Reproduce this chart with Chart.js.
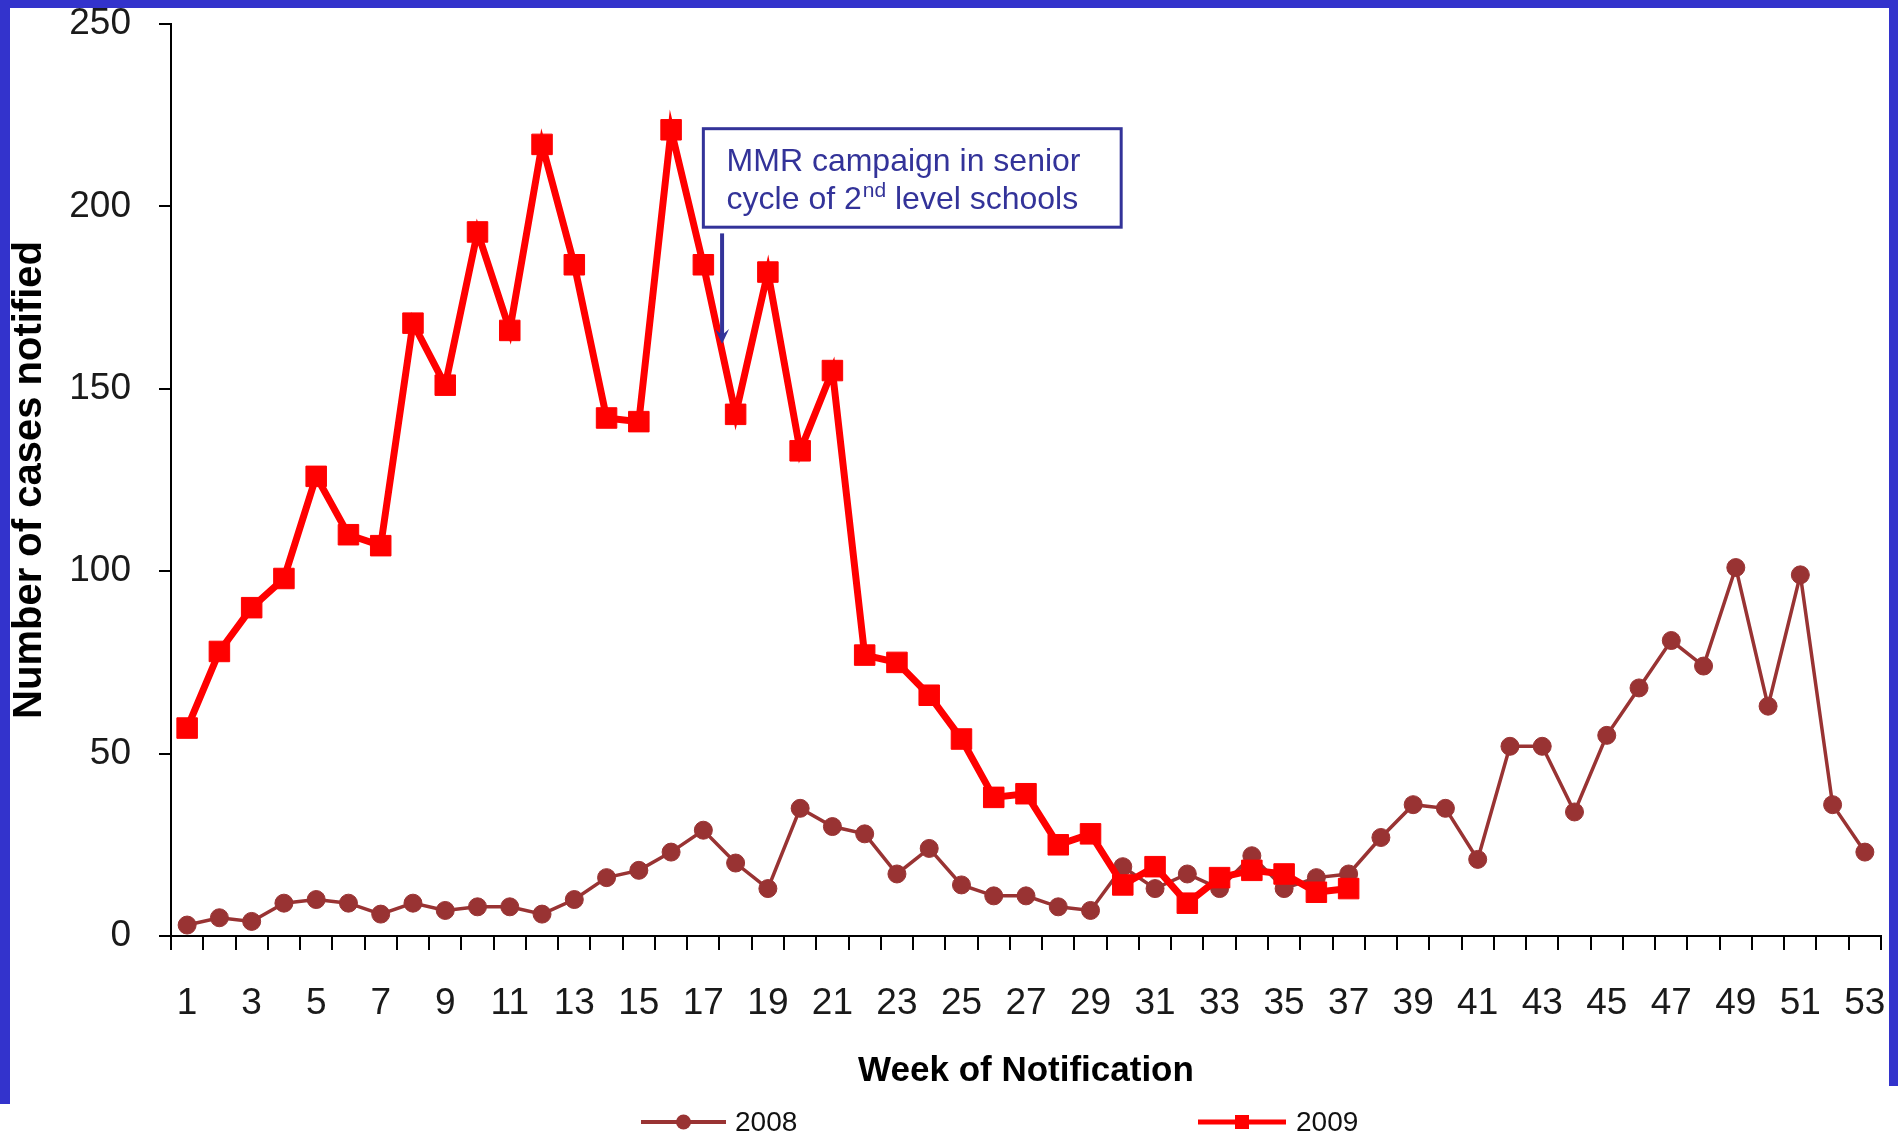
<!DOCTYPE html>
<html>
<head>
<meta charset="utf-8">
<script src="https://cdn.jsdelivr.net/npm/chart.js@4.4.1/dist/chart.umd.min.js"></script>
<style>
  html, body { margin: 0; padding: 0; background: #ffffff; width: 1898px; height: 1137px; overflow: hidden; }
  .frame { position: absolute; background: #3333CC; }
  #fTop { left: 0; top: 0; width: 1898px; height: 8px; }
  #fLeft { left: 0; top: 0; width: 10px; height: 1104px; }
  #fRight { left: 1889px; top: 0; width: 9px; height: 1086px; }
  #wrap { position: absolute; left: 0; top: 0; width: 1898px; height: 1137px; }
</style>
</head>
<body>
<div class="frame" id="fTop"></div>
<div class="frame" id="fLeft"></div>
<div class="frame" id="fRight"></div>
<div id="wrap"><canvas id="chart" width="1898" height="1137"></canvas></div>
<script>
// ---------------- data ----------------
const weeks = ["1","2","3","4","5","6","7","8","9","10","11","12","13","14","15","16","17","18","19","20",
  "21","22","23","24","25","26","27","28","29","30","31","32","33","34","35","36","37","38","39","40",
  "41","42","43","44","45","46","47","48","49","50","51","52","53"];
const cases2008 = [3,5,4,9,10,9,6,9,7,8,8,6,10,16,18,23,29,20,13,35,30,28,17,24,14,11,11,8,7,19,
  13,17,13,22,13,16,17,27,36,35,21,52,52,34,55,68,81,74,101,63,99,36,23];
const cases2009 = [57,78,90,98,126,110,107,168,151,193,166,217,184,142,141,221,184,143,182,133,
  155,77,75,66,54,38,39,25,28,14,19,9,16,18,17,12,13,
  null,null,null,null,null,null,null,null,null,null,null,null,null,null,null,null];
const yTickValues = [0, 50, 100, 150, 200, 250];
const seriesNames = ["2008", "2009"];
const yTitle = "Number of cases notified";
const xTitle = "Week of Notification";
const noteLine1 = "MMR campaign in senior";
const noteLine2 = ["cycle of 2", "nd", " level schools"];

// ---------------- styles ----------------
const SANS = '"Liberation Sans", Arial, sans-serif';
const BROWN = '#993333';
const RED = '#FF0000';
const NAVY = '#333399';

// annotation anchored in scale units (x: category index, y: value)
const note = { left: 16.0, right: 28.95, top: 221.3, bottom: 194.3, textX: 16.72,
  base1: 209.8, base2: 199.2, arrowX: 16.58, arrowFrom: 192.6, arrowTo: 162.3 };

// legend layout (page pixels)
const legendLayout = [
  { x0: 641, x1: 726, textX: 735, y: 1122 },
  { x0: 1198, x1: 1286, textX: 1296, y: 1122 }
];

const annotationPlugin = {
  id: 'mmrNote',
  afterDatasetsDraw(chart) {
    const { ctx, scales: { x, y } } = chart;
    const L = x.getPixelForValue(note.left), R = x.getPixelForValue(note.right);
    const T = y.getPixelForValue(note.top), B = y.getPixelForValue(note.bottom);
    ctx.save();
    ctx.fillStyle = '#ffffff';
    ctx.fillRect(L, T, R - L, B - T);
    ctx.strokeStyle = NAVY;
    ctx.lineWidth = 3;
    ctx.strokeRect(L, T, R - L, B - T);
    ctx.fillStyle = NAVY;
    ctx.textBaseline = 'alphabetic';
    ctx.textAlign = 'left';
    const tx = x.getPixelForValue(note.textX);
    ctx.font = '32px ' + SANS;
    ctx.fillText(noteLine1, tx, y.getPixelForValue(note.base1));
    const b2 = y.getPixelForValue(note.base2);
    let cx = tx;
    ctx.fillText(noteLine2[0], cx, b2);
    cx += ctx.measureText(noteLine2[0]).width + 1;
    ctx.font = '21px ' + SANS;
    ctx.fillText(noteLine2[1], cx, b2 - 12);
    cx += ctx.measureText(noteLine2[1]).width;
    ctx.font = '32px ' + SANS;
    ctx.fillText(noteLine2[2], cx, b2);
    // arrow
    const ax = x.getPixelForValue(note.arrowX);
    const a0 = y.getPixelForValue(note.arrowFrom), a1 = y.getPixelForValue(note.arrowTo);
    ctx.strokeStyle = NAVY;
    ctx.lineWidth = 4;
    ctx.beginPath();
    ctx.moveTo(ax, a0);
    ctx.lineTo(ax, a1 - 8);
    ctx.stroke();
    ctx.beginPath();
    ctx.moveTo(ax, a1);
    ctx.lineTo(ax - 7, a1 - 15);
    ctx.lineTo(ax, a1 - 9);
    ctx.lineTo(ax + 7, a1 - 15);
    ctx.closePath();
    ctx.fill();
    ctx.restore();
  }
};

const legendPlugin = {
  id: 'lineLegend',
  afterDraw(chart) {
    const { ctx } = chart;
    ctx.save();
    chart.data.datasets.forEach((ds, i) => {
      const p = legendLayout[i];
      ctx.strokeStyle = ds.borderColor;
      ctx.fillStyle = ds.pointBackgroundColor;
      ctx.lineWidth = i === 0 ? 4 : 5;
      ctx.beginPath();
      ctx.moveTo(p.x0, p.y);
      ctx.lineTo(p.x1, p.y);
      ctx.stroke();
      const mx = (p.x0 + p.x1) / 2;
      ctx.beginPath();
      if (ds.pointStyle === 'circle') {
        ctx.arc(mx, p.y, 7.5, 0, Math.PI * 2);
      } else {
        ctx.rect(mx - 7, p.y - 7, 14, 14);
      }
      ctx.fill();
      ctx.fillStyle = '#111111';
      ctx.font = '28px ' + SANS;
      ctx.textBaseline = 'middle';
      ctx.textAlign = 'left';
      ctx.fillText(ds.label, p.textX, p.y + 1);
    });
    ctx.restore();
  }
};

new Chart(document.getElementById('chart'), {
  type: 'line',
  data: {
    labels: weeks,
    datasets: [
      {
        label: seriesNames[0],
        data: cases2008,
        borderColor: BROWN,
        backgroundColor: BROWN,
        pointBackgroundColor: BROWN,
        pointBorderColor: BROWN,
        borderWidth: 3.5,
        pointStyle: 'circle',
        pointRadius: 9,
        pointBorderWidth: 1,
        tension: 0,
        order: 1
      },
      {
        label: seriesNames[1],
        data: cases2009,
        borderColor: RED,
        backgroundColor: RED,
        pointBackgroundColor: RED,
        pointBorderColor: RED,
        borderWidth: 7,
        pointStyle: 'rect',
        pointRadius: 14.5,
        pointBorderWidth: 1,
        tension: 0,
        spanGaps: false,
        order: 0
      }
    ]
  },
  options: {
    responsive: false,
    devicePixelRatio: 1,
    animation: false,
    events: [],
    layout: { padding: { left: 0, right: 17, top: 24, bottom: 45 } },
    plugins: {
      legend: { display: false },
      tooltip: { enabled: false },
      title: { display: false }
    },
    scales: {
      x: {
        type: 'category',
        offset: true,
        afterFit: (s) => { s.height = 156; s.paddingLeft = 0; s.paddingRight = 0; },
        grid: {
          offset: true,
          drawOnChartArea: false,
          drawTicks: true,
          tickLength: 14,
          tickWidth: 2,
          tickColor: '#000000',
          color: '#000000',
          lineWidth: 2
        },
        border: { display: true, color: '#000000', width: 2 },
        ticks: {
          autoSkip: false,
          maxRotation: 0,
          minRotation: 0,
          padding: 32,
          color: '#1a1a1a',
          font: { family: SANS, size: 37 },
          callback: (v, i) => (i % 2 === 0 ? weeks[i] : '')
        },
        title: {
          display: true,
          text: xTitle,
          color: '#000000',
          font: { family: SANS, size: 35, weight: 'bold' },
          padding: { top: 0, bottom: 0 }
        }
      },
      y: {
        min: 0,
        max: 250,
        afterFit: (s) => { s.width = 171; s.paddingTop = 0; s.paddingBottom = 0; },
        afterBuildTicks: (s) => { s.ticks = yTickValues.map(v => ({ value: v })); },
        grid: {
          drawOnChartArea: false,
          drawTicks: true,
          tickLength: 12,
          tickWidth: 2,
          tickColor: '#000000',
          color: '#000000',
          lineWidth: 2
        },
        border: { display: true, color: '#000000', width: 2 },
        ticks: {
          padding: 28,
          color: '#1a1a1a',
          font: { family: SANS, size: 37 }
        },
        title: {
          display: true,
          text: yTitle,
          color: '#000000',
          font: { family: SANS, size: 40, weight: 'bold' },
          padding: { top: 6, bottom: 0 }
        }
      }
    }
  },
  plugins: [annotationPlugin, legendPlugin]
});
</script>
</body>
</html>
